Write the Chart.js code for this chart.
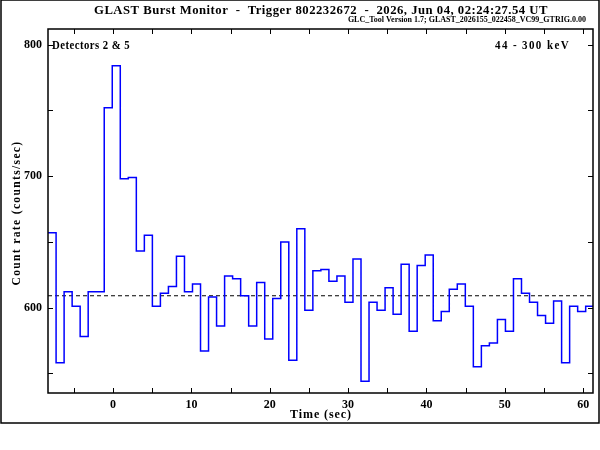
<!DOCTYPE html>
<html>
<head>
<meta charset="utf-8">
<script src="https://cdn.jsdelivr.net/npm/chart.js@4.4.1/dist/chart.umd.min.js"></script>
<style>
  html, body { margin: 0; padding: 0; background: #fff; }
  #wrap { width: 600px; height: 450px; }
</style>
</head>
<body>
<div id="wrap"><canvas id="lc" width="600" height="450"></canvas></div>
<script>
/*--data--*/
var binStart = -8.292;   // left edge of first bin (sec)
var binWidth = 1.024;    // sec
var counts = [657, 558, 612, 601, 578, 612, 612, 752, 784, 698,
              699, 643, 655, 601, 611, 616, 639, 612, 618, 567,
              608, 586, 624, 622, 609, 586, 619, 576, 607, 650,
              560, 660, 598, 628, 629, 620, 624, 604, 637, 544,
              604, 598, 615, 595, 633, 582, 632, 640, 590, 597,
              614, 618, 601, 555, 571, 573, 591, 582, 622, 611,
              604, 594, 588, 605, 558, 601, 597, 601];
var background = 609;
var xRange = [-8.3, 61.25];
var yRange = [535, 812];

var titleText = "GLAST Burst Monitor  -  Trigger 802232672  -  2026, Jun 04, 02:24:27.54 UT";
var subText = "GLC_Tool Version 1.7; GLAST_2026155_022458_VC99_GTRIG.0.00";
var detText = "Detectors 2 & 5";
var energyText = "44 - 300 keV";
var xTitle = "Time (sec)";
var yTitle = "Count rate (counts/sec)";

// step points at bin edges (last one closes the final bin)
var steps = counts.map(function (c, i) { return { x: binStart + i * binWidth, y: c }; });
steps.push({ x: binStart + counts.length * binWidth, y: counts[counts.length - 1] });

function onStep(v, s) { return Math.abs(v / s - Math.round(v / s)) < 1e-6; }

var F = '"Liberation Serif", "DejaVu Serif", serif';

function label(c, txt, x, y, size, spacing, maxW) {
  c.font = 'bold ' + size + 'px ' + F;
  c.letterSpacing = spacing + 'px';
  c.fillText(txt, x, y, maxW);
}

var gbmFrame = {
  id: 'gbmFrame',
  afterDraw: function (chart) {
    var c = chart.ctx, a = chart.chartArea;
    var xs = chart.scales.x, ys = chart.scales.y;
    c.save();
    c.strokeStyle = '#000';
    c.lineWidth = 1.5;
    // outer page frame
    c.strokeRect(1, 0, 598, 423);
    // plot box
    c.strokeRect(a.left, a.top, a.right - a.left, a.bottom - a.top);
    // inward ticks
    c.lineWidth = 1;
    c.beginPath();
    xs.ticks.forEach(function (t) {
      var px = Math.round(xs.getPixelForValue(t.value)) + 0.5;
      c.moveTo(px, a.bottom); c.lineTo(px, a.bottom - 5);
      c.moveTo(px, a.top); c.lineTo(px, a.top + 5);
    });
    ys.ticks.forEach(function (t) {
      var py = Math.round(ys.getPixelForValue(t.value)) + 0.5;
      c.moveTo(a.left, py); c.lineTo(a.left + 5, py);
      c.moveTo(a.right, py); c.lineTo(a.right - 5, py);
    });
    c.stroke();
    // texts
    c.fillStyle = '#000';
    c.textBaseline = 'alphabetic';
    c.textAlign = 'center';
    label(c, titleText, 321, 14, 13, 0.5, 454);
    c.textAlign = 'right';
    label(c, subText, 586, 22, 8, 0, 263);
    c.textAlign = 'left';
    label(c, detText, 52, 49, 12, 0.5, 78);
    c.textAlign = 'right';
    label(c, energyText, 570, 49, 12, 1.5, 75);
    c.textAlign = 'center';
    label(c, xTitle, 321, 418, 13, 1, 62);
    c.translate(20, 213);
    c.rotate(-Math.PI / 2);
    label(c, yTitle, 0, 0, 13, 1.5, 145);
    c.restore();
  }
};

var ctx = document.getElementById('lc').getContext('2d');
var lc = new Chart(ctx, {
  type: 'line',
  plugins: [gbmFrame],
  data: {
    datasets: [
      {
        label: 'Counts',
        data: steps,
        stepped: true,
        borderColor: '#0000ff',
        borderWidth: 1.5,
        pointRadius: 0,
        fill: false
      },
      {
        label: 'Background',
        data: [{ x: xRange[0], y: background }, { x: xRange[1], y: background }],
        borderColor: '#000',
        borderWidth: 1,
        borderDash: [4, 3],
        pointRadius: 0,
        fill: false
      }
    ]
  },
  options: {
    responsive: false,
    animation: false,
    layout: { padding: { top: 29, right: 7, left: 0, bottom: 0 } },
    plugins: { legend: { display: false }, tooltip: { enabled: false } },
    scales: {
      x: {
        type: 'linear',
        min: xRange[0],
        max: xRange[1],
        grid: { display: false, drawTicks: false },
        border: { display: false },
        afterBuildTicks: function (s) { s.ticks = s.ticks.filter(function (t) { return onStep(t.value, 5); }); },
        ticks: {
          stepSize: 5,
          includeBounds: false,
          padding: 5,
          maxRotation: 0,
          autoSkip: false,
          color: '#000',
          font: { family: F, size: 12, weight: 'bold' },
          callback: function (v) { return onStep(v, 10) ? Math.round(v) : ''; }
        },
        afterFit: function (s) { s.height = 57; }
      },
      y: {
        min: yRange[0],
        max: yRange[1],
        grid: { display: false, drawTicks: false },
        border: { display: false },
        afterBuildTicks: function (s) { s.ticks = s.ticks.filter(function (t) { return onStep(t.value, 50); }); },
        ticks: {
          stepSize: 50,
          includeBounds: false,
          padding: 6,
          autoSkip: false,
          color: '#000',
          font: { family: F, size: 12, weight: 'bold' },
          callback: function (v) { return onStep(v, 100) ? Math.round(v) : ''; }
        },
        afterFit: function (s) { s.width = 48; }
      }
    }
  }
});
</script>
</body>
</html>
